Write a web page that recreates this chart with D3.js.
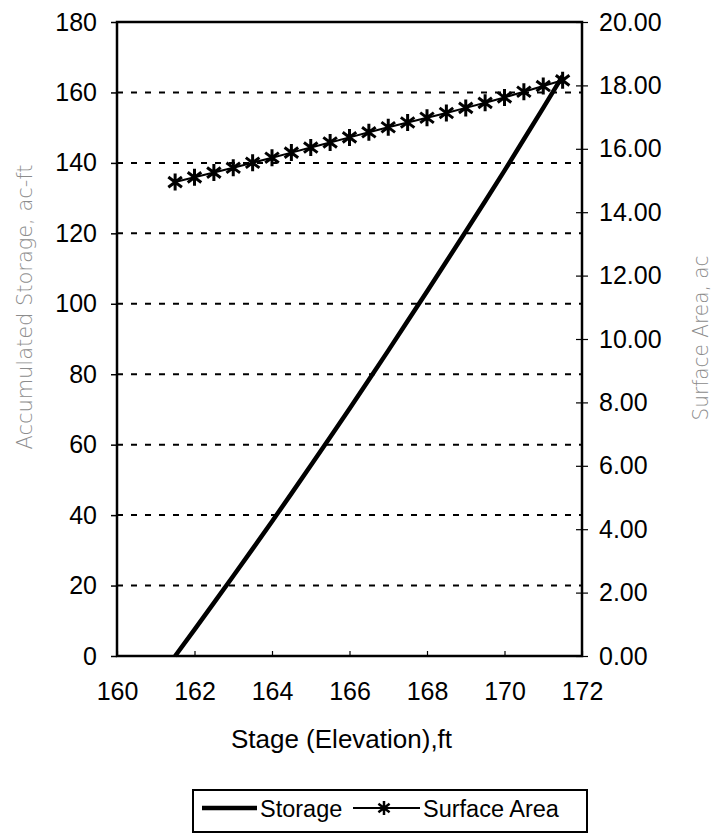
<!DOCTYPE html>
<html>
<head>
<meta charset="utf-8">
<script src="https://cdn.jsdelivr.net/npm/d3@7"></script>
<style>
  body { margin: 0; background: #fff; }
  text { font-family: "Liberation Sans", Arial, sans-serif; }
</style>
</head>
<body>
<svg id="chart" width="724" height="833"></svg>
<script>
// stage values, ft (every 0.5 ft)
var stage = [161.5, 162, 162.5, 163, 163.5, 164, 164.5, 165, 165.5, 166, 166.5,
  167, 167.5, 168, 168.5, 169, 169.5, 170, 170.5, 171, 171.5]
// accumulated storage, ac-ft
var storage = [0, 7.5, 15.1, 22.7, 30.4, 38.2, 46.1, 54.1, 62.1, 70.2, 78.4,
  86.7, 95.1, 103.5, 112.0, 120.5, 129.1, 137.8, 146.7, 155.6, 164.7]
// surface area, ac
var area = [14.95, 15.1, 15.25, 15.4, 15.56, 15.72, 15.88, 16.04, 16.2, 16.36, 16.52,
  16.68, 16.83, 16.98, 17.13, 17.29, 17.45, 17.62, 17.8, 17.98, 18.16]

var xTicks = [160, 162, 164, 166, 168, 170, 172]
var leftTicks = [0, 20, 40, 60, 80, 100, 120, 140, 160, 180]
var rightTicks = [0, 2, 4, 6, 8, 10, 12, 14, 16, 18, 20]

var margin = { left: 117, top: 22 }
var width = 465
var height = 634

var svg = d3.select('#chart')
var g = svg.append('g')
  .attr('transform', 'translate(' + margin.left + ',' + margin.top + ')')

var x = d3.scaleLinear().domain([160, 172]).range([0, width])
var yL = d3.scaleLinear().domain([0, 180]).range([height, 0])
var yR = d3.scaleLinear().domain([0, 20]).range([height, 0])

// dashed gridlines from the left axis
g.append('g')
  .selectAll('line')
  .data(leftTicks.filter(function(d) { return d > 0 && d < 180 }))
  .enter()
  .append('line')
  .attr('x1', 0)
  .attr('x2', width)
  .attr('y1', function(d) { return yL(d) })
  .attr('y2', function(d) { return yL(d) })
  .attr('stroke', '#000')
  .attr('stroke-width', 2)
  .attr('stroke-dasharray', '6,8')

// left axis
var left = g.append('g')
  .call(d3.axisLeft(yL).tickValues(leftTicks).tickSize(6).tickPadding(14))
left.select('.domain').remove()
left.selectAll('line').attr('stroke-width', 1.5)
left.selectAll('text').style('font-size', '25px').attr('fill', '#000')

// right axis, ticks crossing the line
var right = g.append('g')
  .attr('transform', 'translate(' + width + ',0)')
  .call(d3.axisRight(yR).tickValues(rightTicks).tickSize(6).tickPadding(11)
    .tickFormat(d3.format('.2f')))
right.select('.domain').remove()
right.selectAll('.tick line').attr('x1', -6).attr('stroke-width', 1.2)
right.selectAll('text').style('font-size', '25px').attr('fill', '#000')

// bottom axis, inward ticks
var bottom = g.append('g')
  .attr('transform', 'translate(0,' + height + ')')
  .call(d3.axisBottom(x).tickValues(xTicks).tickSize(-5).tickPadding(26))
bottom.select('.domain').remove()
bottom.selectAll('line').attr('stroke-width', 1.2)
bottom.selectAll('text').style('font-size', '25px').attr('fill', '#000')

// plot frame
g.append('rect')
  .attr('width', width)
  .attr('height', height)
  .attr('fill', 'none')
  .attr('stroke', '#000')
  .attr('stroke-width', 2.5)

var pts = stage.map(function(s, i) {
  return { stage: s, storage: storage[i], area: area[i] }
})

// surface area line + star markers
var star = function(s) {
  var d = s * 0.8
  return 'M0,' + -s + 'L0,' + s +
    'M' + -d + ',' + -d * 0.75 + 'L' + d + ',' + d * 0.75 +
    'M' + -d + ',' + d * 0.75 + 'L' + d + ',' + -d * 0.75
}

g.append('path')
  .datum(pts)
  .attr('fill', 'none')
  .attr('stroke', '#000')
  .attr('stroke-width', 2)
  .attr('d', d3.line()
    .x(function(d) { return x(d.stage) })
    .y(function(d) { return yR(d.area) }))

g.selectAll('.marker')
  .data(pts)
  .enter()
  .append('path')
  .attr('class', 'marker')
  .attr('transform', function(d) {
    return 'translate(' + x(d.stage) + ',' + yR(d.area) + ')'
  })
  .attr('d', star(8.5))
  .attr('stroke', '#000')
  .attr('stroke-width', 3)
  .attr('fill', 'none')

// storage line
g.append('path')
  .datum(pts)
  .attr('fill', 'none')
  .attr('stroke', '#000')
  .attr('stroke-width', 4.5)
  .attr('d', d3.line()
    .x(function(d) { return x(d.stage) })
    .y(function(d) { return yL(d.storage) }))

// axis titles
svg.append('text')
  .attr('x', margin.left + width / 2 - 8)
  .attr('y', 748)
  .attr('text-anchor', 'middle')
  .style('font-size', '26px')
  .text('Stage (Elevation),ft')

svg.append('text')
  .attr('transform', 'translate(32,307) rotate(-90)')
  .attr('text-anchor', 'middle')
  .attr('textLength', 285)
  .attr('lengthAdjust', 'spacingAndGlyphs')
  .attr('fill', '#8c8c8c')
  .style('font-family', '"DejaVu Sans"')
  .style('font-weight', 200)
  .style('font-size', '22px')
  .text('Accumulated Storage, ac-ft')

svg.append('text')
  .attr('transform', 'translate(708,338) rotate(-90)')
  .attr('text-anchor', 'middle')
  .attr('textLength', 165)
  .attr('lengthAdjust', 'spacingAndGlyphs')
  .attr('fill', '#8c8c8c')
  .style('font-family', '"DejaVu Sans"')
  .style('font-weight', 200)
  .style('font-size', '22px')
  .text('Surface Area, ac')

// legend
var lg = svg.append('g').attr('transform', 'translate(193,790)')
lg.append('rect')
  .attr('width', 394)
  .attr('height', 42)
  .attr('fill', '#fff')
  .attr('stroke', '#000')
  .attr('stroke-width', 2)
lg.append('line')
  .attr('x1', 9).attr('x2', 64).attr('y1', 18).attr('y2', 18)
  .attr('stroke', '#000').attr('stroke-width', 4.5)
lg.append('text')
  .attr('x', 67).attr('y', 27)
  .style('font-size', '23.5px')
  .text('Storage')
lg.append('line')
  .attr('x1', 160).attr('x2', 227).attr('y1', 18).attr('y2', 18)
  .attr('stroke', '#000').attr('stroke-width', 2)
lg.append('path')
  .attr('transform', 'translate(191,18)')
  .attr('d', star(7))
  .attr('stroke', '#000')
  .attr('stroke-width', 2.5)
lg.append('text')
  .attr('x', 230).attr('y', 27)
  .style('font-size', '23.5px')
  .text('Surface Area')
</script>
</body>
</html>
